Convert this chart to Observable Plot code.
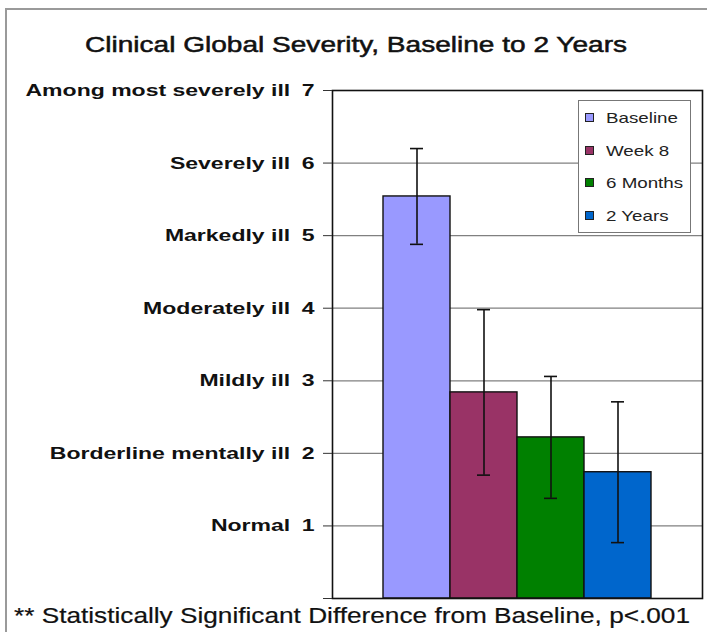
<!DOCTYPE html>
<html>
<head>
<meta charset="utf-8">
<script src="https://cdn.jsdelivr.net/npm/d3@7"></script>
<script src="https://cdn.jsdelivr.net/npm/@observablehq/plot@0.6"></script>
<style>
  html, body { margin: 0; padding: 0; background: #fff; }
  #wrap { position: relative; width: 707px; height: 632px; overflow: hidden; font-family: "Liberation Sans", Arial, sans-serif; }
  #frame { position: absolute; left: 5px; top: 8px; width: 710px; height: 640px; border-left: 2px solid #9a9a9a; border-top: 2px solid #9a9a9a; box-sizing: border-box; }
  #title { position: absolute; left: 0; top: 32px; font-size: 22px; color: #111; white-space: nowrap; transform-origin: 0 50%; -webkit-text-stroke: 0.5px #111; }
  #foot { position: absolute; left: 0; top: 603px; font-size: 22px; color: #111; white-space: nowrap; transform-origin: 0 50%; -webkit-text-stroke: 0.2px #111; }
  #legend { position: absolute; left: 578px; top: 100px; width: 113px; height: 133px; box-sizing: border-box; border: 1px solid #777; background: #fff; }
  .li { position: absolute; left: 6px; height: 18px; line-height: 18px; white-space: nowrap; }
  .sw { position: absolute; left: 0; top: 4px; width: 9px; height: 9px; border: 1px solid #222; box-sizing: border-box; }
  .lt { position: absolute; left: 21px; top: 0; font-size: 15px; color: #222; transform-origin: 0 50%; }
  svg { position: absolute; left: 0; top: 0; }
</style>
</head>
<body>
<div id="wrap">
  <div id="frame"></div>
</div>
<script>
const series = ["Baseline", "Week 8", "6 Months", "2 Years"];
const values = [5.54, 2.84, 2.22, 1.74];
const errors = [0.66, 1.14, 0.84, 0.97];
const colors = ["#9999ff", "#993366", "#008000", "#0066cc"];
const yLevels = [1, 2, 3, 4, 5, 6, 7];
const yLabels = ["Normal", "Borderline mentally ill", "Mildly ill", "Moderately ill", "Markedly ill", "Severely ill", "Among most severely ill"];
const titleText = "Clinical Global Severity, Baseline to 2 Years";
const footText = "** Statistically Significant Difference from Baseline, p<.001";

const data = series.map((s, i) => ({series: s, value: values[i], err: errors[i]}));

const chart = Plot.plot({
  width: 707,
  height: 632,
  marginTop: 90,
  marginRight: 5,
  marginBottom: 34,
  marginLeft: 332,
  style: {fontFamily: "'Liberation Sans', Arial, sans-serif", background: "transparent", overflow: "visible"},
  x: {type: "band", domain: series, range: [383, 651], padding: 0, axis: null},
  y: {domain: [0, 7], axis: null},
  color: {domain: series, range: colors},
  marks: [
    Plot.gridY(yLevels.slice(0, 6), {stroke: "#808080", strokeOpacity: 1, strokeWidth: 1.3}),
    Plot.barY(data, {x: "series", y: "value", fill: "series", stroke: "#111", strokeWidth: 1.4}),
    Plot.ruleX(data, {x: "series", y1: d => d.value - d.err, y2: d => d.value + d.err, stroke: "#111", strokeWidth: 1.6}),
    Plot.tickY(data, {x: "series", y: d => d.value - d.err, stroke: "#111", strokeWidth: 1.6, insetLeft: 27, insetRight: 27}),
    Plot.tickY(data, {x: "series", y: d => d.value + d.err, stroke: "#111", strokeWidth: 1.6, insetLeft: 27, insetRight: 27}),
    Plot.frame({stroke: "#111", strokeWidth: 1.6}),
    Plot.axisY({
      ticks: [0, ...yLevels],
      label: null,
      tickSize: 9,
      tickPadding: 9,
      fontSize: 17,
      fontWeight: "bold",
      stroke: "#333",
      fill: "#111",
      tickFormat: d => d === 0 ? "" : yLabels[d - 1] + "\u2002" + d
    })
  ]
});

const wrap = document.getElementById("wrap");
wrap.appendChild(chart);

// stretch y tick labels horizontally to match the wide lettering of the reference
const tickTexts = Array.from(chart.querySelectorAll("text")).filter(t => t.textContent.length > 0);
let longest = 0;
tickTexts.forEach(t => { longest = Math.max(longest, t.getComputedTextLength()); });
const yFactor = 289 / longest;
tickTexts.forEach(t => {
  const len = t.getComputedTextLength();
  t.setAttribute("textLength", (len * yFactor).toFixed(1));
  t.setAttribute("lengthAdjust", "spacingAndGlyphs");
});

function stretched(id, text, left, width) {
  const el = document.createElement("div");
  el.id = id;
  el.textContent = text;
  wrap.appendChild(el);
  const w = el.getBoundingClientRect().width;
  el.style.left = left + "px";
  el.style.transform = `scaleX(${width / w})`;
  return el;
}
stretched("title", titleText, 85, 542);
stretched("foot", footText, 14, 676);

const legend = document.createElement("div");
legend.id = "legend";
wrap.appendChild(legend);
series.forEach((s, i) => {
  const li = document.createElement("div");
  li.className = "li";
  li.style.top = (8 + i * 32.5) + "px";
  const sw = document.createElement("span");
  sw.className = "sw";
  sw.style.background = colors[i];
  li.appendChild(sw);
  const lt = document.createElement("span");
  lt.className = "lt";
  lt.textContent = s;
  li.appendChild(lt);
  legend.appendChild(li);
  lt.style.transform = "scaleX(1.25)";
});
</script>
</body>
</html>
